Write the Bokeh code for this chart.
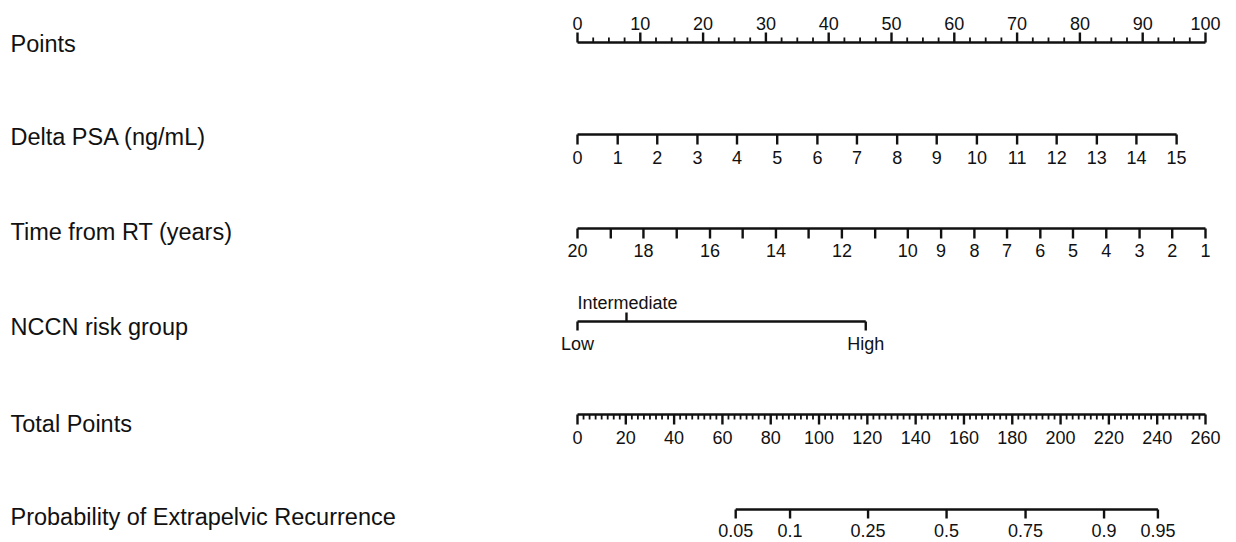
from bokeh.plotting import figure
from bokeh.models import Range1d
from bokeh.core.properties import value
from bokeh.embed import file_html
from bokeh.resources import INLINE

# ---------------- data ----------------
row_titles = ["Points", "Delta PSA (ng/mL)", "Time from RT (years)",
              "NCCN risk group", "Total Points",
              "Probability of Extrapelvic Recurrence"]

points_major = [0, 10, 20, 30, 40, 50, 60, 70, 80, 90, 100]
points_labels = [str(v) for v in points_major]

delta_psa_values = ["0", "1", "2", "3", "4", "5", "6", "7", "8", "9",
                    "10", "11", "12", "13", "14", "15"]
delta_psa_points = [0, 6.4, 12.7, 19.1, 25.4, 31.8, 38.2, 44.5, 50.9,
                    57.2, 63.6, 70.0, 76.3, 82.7, 89.0, 95.4]

time_values = ["20", "", "18", "", "16", "", "14", "", "12", "", "10",
               "9", "8", "7", "6", "5", "4", "3", "2", "1"]
time_points = [0, 5.3, 10.5, 15.8, 21.1, 26.3, 31.6, 36.8, 42.1, 47.4,
               52.6, 57.9, 63.2, 68.4, 73.7, 78.9, 84.2, 89.5, 94.7, 100]

nccn_groups = ["Low", "Intermediate", "High"]
nccn_points = [0, 7.8, 45.9]

total_major = [0, 20, 40, 60, 80, 100, 120, 140, 160, 180, 200, 220, 240, 260]
total_labels = [str(v) for v in total_major]

prob_labels = ["0.05", "0.1", "0.25", "0.5", "0.75", "0.9", "0.95"]
prob_total_points = [65.5, 88.0, 120.3, 152.8, 185.5, 218.0, 240.3]

# ---------------- layout ----------------
FONT = value("Liberation Sans")
LBL = "18px"
TTL = "23.5px"
LW = 2.4
LWM = 1.8
BL = "middle"
INK = "#111111"

row_y = [42, 134, 228, 321, 414, 509]          # axis line rows (page px)
title_y = [43, 136, 231, 326, 423, 516]        # title centres

p = figure(width=1236, height=542,
           x_range=Range1d(-91.879, 104.936), y_range=Range1d(542, 0),
           x_axis_type=None, y_axis_type=None,
           output_backend="svg", toolbar_location=None,
           min_border=0, min_border_left=0, min_border_right=0,
           min_border_top=0, min_border_bottom=0)
p.grid.visible = False
p.outline_line_color = None
p.background_fill_color = "white"
p.border_fill_color = "white"
p.extra_x_ranges = {"total": Range1d(-238.885, 272.834)}

# titles
p.text(x=[-90.29] * len(row_titles), y=title_y, text=row_titles,
       text_font=FONT, text_font_size=TTL, text_align="left",
       text_baseline=BL, text_color=INK)

# ---- Points row (ticks upward) ----
y0 = row_y[0]
p.segment(x0=[0], y0=[y0], x1=[100], y1=[y0], line_width=LW, line_color=INK)
p.segment(x0=points_major, y0=[y0] * 11, x1=points_major, y1=[y0 - 10] * 11,
          line_width=LW, line_color=INK)
points_minor = [i * 2.5 for i in range(41) if (i * 2.5) % 10 != 0]
p.segment(x0=points_minor, y0=[y0] * len(points_minor), x1=points_minor,
          y1=[y0 - 5] * len(points_minor), line_width=LWM, line_color=INK)
p.text(x=points_major, y=[y0 - 19] * 11, text=points_labels,
       text_font=FONT, text_font_size=LBL, text_align="center",
       text_baseline=BL, text_color=INK)

# ---- Delta PSA ----
y1 = row_y[1]
p.segment(x0=[delta_psa_points[0]], y0=[y1], x1=[delta_psa_points[-1]], y1=[y1],
          line_width=LW, line_color=INK)
n = len(delta_psa_points)
p.segment(x0=delta_psa_points, y0=[y1] * n, x1=delta_psa_points, y1=[y1 + 10] * n,
          line_width=LW, line_color=INK)
p.text(x=delta_psa_points, y=[y1 + 23] * n, text=delta_psa_values,
       text_font=FONT, text_font_size=LBL, text_align="center",
       text_baseline=BL, text_color=INK)

# ---- Time from RT ----
y2 = row_y[2]
p.segment(x0=[time_points[0]], y0=[y2], x1=[time_points[-1]], y1=[y2],
          line_width=LW, line_color=INK)
n = len(time_points)
p.segment(x0=time_points, y0=[y2] * n, x1=time_points, y1=[y2 + 10] * n,
          line_width=LW, line_color=INK)
p.text(x=time_points, y=[y2 + 22] * n, text=time_values,
       text_font=FONT, text_font_size=LBL, text_align="center",
       text_baseline=BL, text_color=INK)

# ---- NCCN risk group ----
y3 = row_y[3]
p.segment(x0=[nccn_points[0]], y0=[y3], x1=[nccn_points[-1]], y1=[y3],
          line_width=LW, line_color=INK)
p.segment(x0=[nccn_points[0], nccn_points[2]], y0=[y3, y3],
          x1=[nccn_points[0], nccn_points[2]], y1=[y3 + 9, y3 + 9],
          line_width=LW, line_color=INK)
p.segment(x0=[nccn_points[1]], y0=[y3], x1=[nccn_points[1]], y1=[y3 - 9],
          line_width=LW, line_color=INK)
p.text(x=[nccn_points[0], nccn_points[2]], y=[y3 + 22, y3 + 22],
       text=[nccn_groups[0], nccn_groups[2]],
       text_font=FONT, text_font_size=LBL, text_align="center",
       text_baseline=BL, text_color=INK)
p.text(x=[nccn_points[0]], y=[y3 - 19], text=[nccn_groups[1]],
       text_font=FONT, text_font_size=LBL, text_align="left",
       text_baseline=BL, text_color=INK)

# ---- Total Points ----
y4 = row_y[4]
p.segment(x0=[0], y0=[y4], x1=[260], y1=[y4], line_width=LW,
          line_color=INK, x_range_name="total")
n = len(total_major)
p.segment(x0=total_major, y0=[y4] * n, x1=total_major, y1=[y4 + 10] * n,
          line_width=LW, line_color=INK, x_range_name="total")
total_minor = [i * 2.5 for i in range(105) if (i * 2.5) % 20 != 0]
p.segment(x0=total_minor, y0=[y4] * len(total_minor), x1=total_minor,
          y1=[y4 + 5] * len(total_minor), line_width=LWM, line_color=INK,
          x_range_name="total")
p.text(x=total_major, y=[y4 + 23] * n, text=total_labels,
       text_font=FONT, text_font_size=LBL, text_align="center",
       text_baseline=BL, text_color=INK, x_range_name="total")

# ---- Probability ----
y5 = row_y[5]
p.segment(x0=[prob_total_points[0]], y0=[y5], x1=[prob_total_points[-1]], y1=[y5],
          line_width=LW, line_color=INK, x_range_name="total")
n = len(prob_total_points)
p.segment(x0=prob_total_points, y0=[y5] * n, x1=prob_total_points,
          y1=[y5 + 9] * n, line_width=LW, line_color=INK,
          x_range_name="total")
p.text(x=prob_total_points, y=[y5 + 21] * n, text=prob_labels,
       text_font=FONT, text_font_size=LBL, text_align="center",
       text_baseline=BL, text_color=INK, x_range_name="total")

open("out.html", "w").write(file_html(p, INLINE))
